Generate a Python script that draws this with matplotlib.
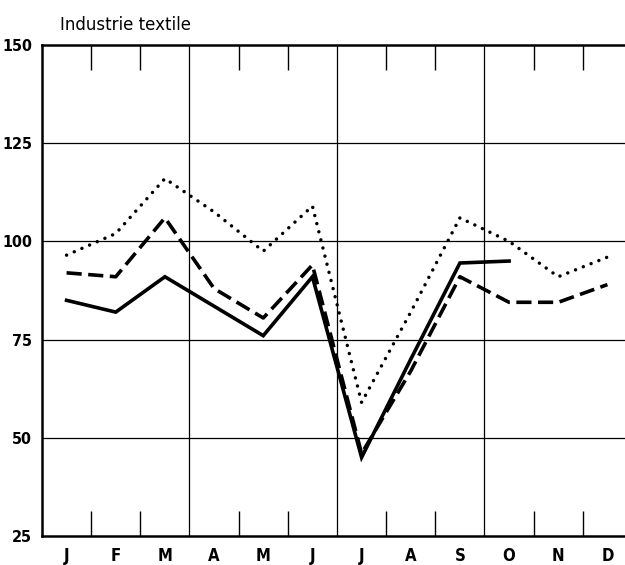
#!/usr/bin/env python3

# Monthly index, textile industry, three series

import numpy as np
import matplotlib.pyplot as plt

months = ['J', 'F', 'M', 'A', 'M', 'J', 'J', 'A', 'S', 'O', 'N', 'D']
solid = [85, 82, 91, 83.5, 76, 91, 45, 70, 94.5, 95]
dashed = [92, 91, 106, 88, 80.5, 94, 46, 67, 91, 84.5, 84.5, 89]
dotted = [96.5, 102, 116, 107.5, 97.5, 109, 59, 82, 106, 100, 91, 96]
yticks = [25, 50, 75, 100, 125, 150]

plt.rcParams['font.family'] = ['DejaVu Sans']
plt.rcParams['font.stretch'] = 'condensed'

fig = plt.figure(figsize=(6.25, 5.65), dpi=100)
ax = fig.add_axes([42 / 625, 29 / 565, 590 / 625, 491 / 565])

x = np.arange(len(months))
ax.plot(x[:len(solid)], solid, color='black', lw=2.6, solid_joinstyle='miter')
ax.plot(x, dashed, color='black', lw=2.6, linestyle=(0, (4.2, 1.8)), dash_capstyle='butt')
ax.plot(x, dotted, color='black', lw=2.5, linestyle=(0, (0.01, 2.4)), dash_capstyle='round')

ax.set_xlim(-0.5, 11.5)
ax.set_ylim(25, 150)

for v in yticks[1:-1]:
    ax.axhline(v, color='black', lw=0.9, zorder=0)
for b in [2.5, 5.5, 8.5]:
    ax.axvline(b, color='black', lw=0.9, zorder=0)

ax.set_xticks(x)
ax.set_xticklabels(months, fontsize=12, fontweight='bold')
ax.set_yticks(yticks)
ax.set_yticklabels([str(v) for v in yticks], fontsize=11.5, fontweight='bold')
ax.tick_params(axis='x', length=0, pad=8)
ax.tick_params(axis='y', length=0, pad=7)

ax.set_xticks([0.5, 1.5, 3.5, 4.5, 6.5, 7.5, 9.5, 10.5], minor=True)
ax.tick_params(axis='x', which='minor', direction='in', length=18, width=1.0,
               top=True, bottom=True)
ax.tick_params(axis='y', which='minor', left=False)

for s in ['left', 'bottom', 'top']:
    ax.spines[s].set_linewidth(1.8)
ax.spines['right'].set_visible(False)

fig.text(60 / 625, 1 - 25 / 565, 'Industrie textile', fontsize=12, fontstretch='normal',
         va='center', ha='left')

plt.savefig('out.png', dpi=100)
